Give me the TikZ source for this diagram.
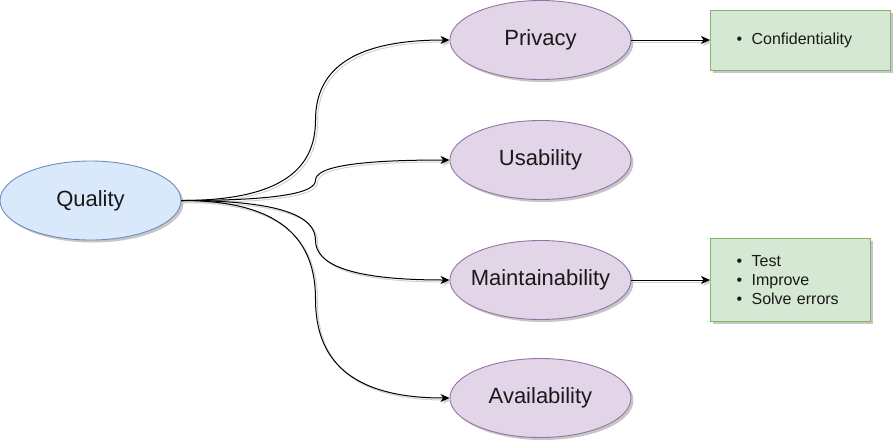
\documentclass[tikz,border=0pt]{standalone}
\usepackage{fontspec}
\setmainfont{Liberation Sans}
\usetikzlibrary{arrows.meta,calc,shadows}
\usetikzlibrary{shapes.geometric}

\definecolor{qfill}{HTML}{DAE8FC}
\definecolor{qline}{HTML}{6C8EBF}
\definecolor{pfill}{HTML}{E1D5E7}
\definecolor{pline}{HTML}{9673A6}
\definecolor{nfill}{HTML}{D5E8D4}
\definecolor{nline}{HTML}{82B366}

\begin{document}
\begin{tikzpicture}[x=1pt,y=-1pt,
  topic/.style={ellipse,minimum width=181pt,minimum height=79pt,inner ysep=0pt,inner xsep=-25pt,
    line width=0.9pt,text=black!90,font=\fontsize{22}{26}\selectfont,
    drop shadow={shadow xshift=2.5pt,shadow yshift=-2.5pt,fill=black,opacity=0.22}},
  notes/.style={rectangle,fill=nfill,draw=nline,line width=0.9pt,inner xsep=26pt,
    align=left,text=black!90,font=\fontsize{16}{19}\selectfont,
    drop shadow={shadow xshift=2.5pt,shadow yshift=-2.5pt,fill=black,opacity=0.22}},
  link/.style={-{Stealth[length=9pt,width=8pt,inset=2.5pt]},line width=1pt,
    preaction={draw=black!18,line width=1pt,transform canvas={shift={(2pt,-2pt)}}}}]
\useasboundingbox (0,0) rectangle (894,445);

\node[topic,fill=qfill,draw=qline] (qual) at (90.5,200.5) {Quality};
\node[topic,fill=pfill,draw=pline] (priv) at (540.5,40) {Privacy};
\node[topic,fill=pfill,draw=pline] (usab) at (540.5,160) {Usability};
\node[topic,fill=pfill,draw=pline] (maint) at (540.5,280) {Maintainability};
\node[topic,fill=pfill,draw=pline] (avail) at (540.5,398) {Availability};

\node[notes,text width=128pt,minimum height=60pt] (conf) at (800.5,40)
  {\textbullet\hspace{9.5pt}Confidentiality};
\node[notes,text width=108pt,minimum height=83pt] (tasks) at (790.5,280)
  {\textbullet\hspace{9.5pt}Test\\ \textbullet\hspace{9.5pt}Improve\\ \textbullet\hspace{9.5pt}Solve errors};

% curved links out of Quality
\foreach \t in {priv,usab,maint,avail}{
  \coordinate (m) at ($(qual.east)!.5!(\t.west)$);
  \draw[link] (qual.east) .. controls ($(qual.east)!.75!(qual.east -| m)$) and ($(m)!.6!(m |- qual.east)$) .. (m)
    .. controls ($(m)!.6!(m |- \t.west)$) and ($(\t.west)!.75!(\t.west -| m)$) .. (\t.west);
}
\draw[link] (priv.east) -- (conf.west);
\draw[link] (maint.east) -- (tasks.west);
\end{tikzpicture}
\end{document}
